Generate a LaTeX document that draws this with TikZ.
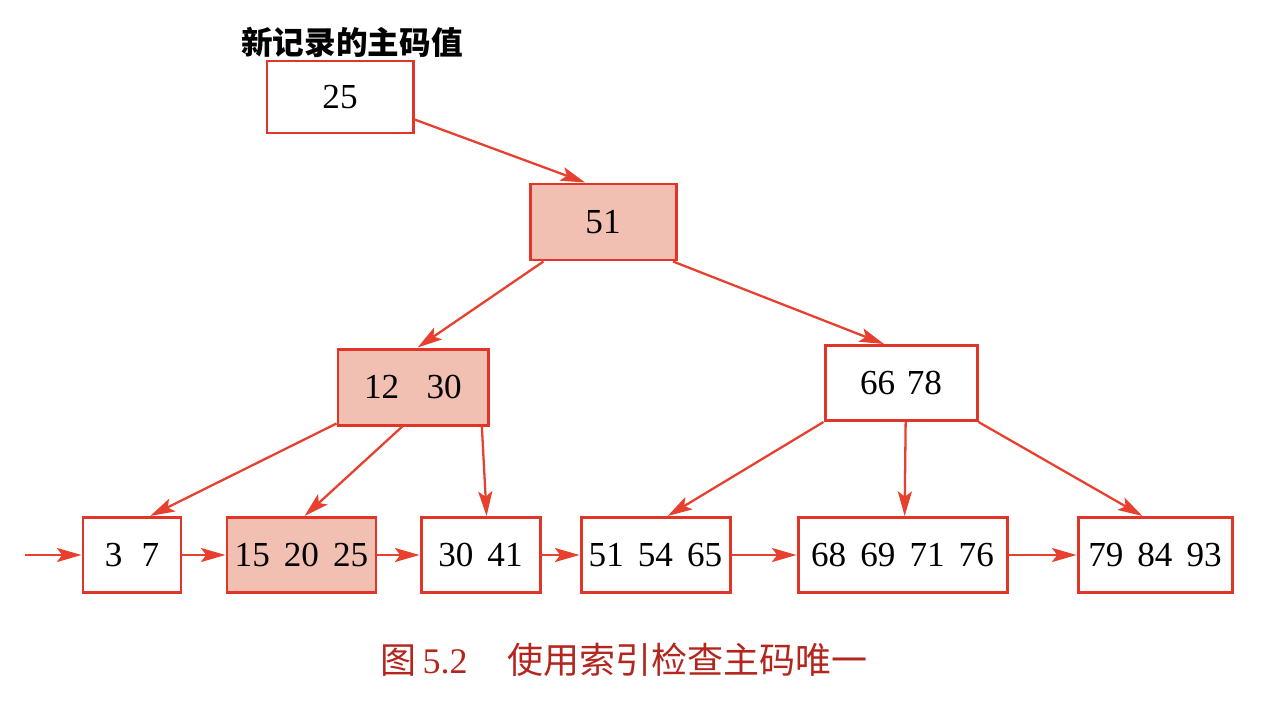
\documentclass[tikz,border=0pt]{standalone}
\usepackage{fontspec}
\setmainfont{Liberation Serif}
\newfontfamily\cjk{Noto Sans CJK SC}
\usetikzlibrary{arrows.meta,calc}
\definecolor{boxred}{HTML}{E2352A}
\definecolor{arrred}{HTML}{E8402E}
\definecolor{shade}{HTML}{F2C0B2}
\definecolor{capred}{HTML}{B3261E}
\tikzset{
  keybox/.style={draw=boxred, line width=1.7pt, fill=white, inner sep=0pt,
    font=\fontsize{20}{22}\selectfont},
  hitbox/.style={keybox, fill=shade},
  ptr/.style={draw=arrred, line width=1.3pt,
    -{Stealth[length=14pt,width=8pt,inset=3pt]}},
}
\begin{document}
\begin{tikzpicture}[x=0.02cm,y=-0.02cm]
\useasboundingbox (0,0) rectangle (1280,727);
% nodes
\node[keybox, minimum width=146*0.02cm, minimum height=72*0.02cm] (b25) at (340,97) {25};
\node[font=\cjk\bfseries\fontsize{18}{20}\selectfont] (lab) at (352,42) {新记录的主码值};
\node[hitbox, minimum width=146*0.02cm, minimum height=76*0.02cm] (b51) at (603,222) {51};
\node[hitbox, minimum width=150*0.02cm, minimum height=76*0.02cm] (b1230) at (413,387) {12\hspace{0.78em}30};
\node[keybox, minimum width=152*0.02cm, minimum height=75*0.02cm] (b6678) at (901,383) {66\hspace{0.33em}78};
\node[keybox, minimum width=98*0.02cm, minimum height=75*0.02cm] (l1) at (132,555) {3\hspace{0.55em}7};
\node[hitbox, minimum width=149*0.02cm, minimum height=75*0.02cm] (l2) at (301.5,555) {15\hspace{0.4em}20\hspace{0.4em}25};
\node[keybox, minimum width=119*0.02cm, minimum height=75*0.02cm] (l3) at (480.5,555) {30\hspace{0.4em}41};
\node[keybox, minimum width=149*0.02cm, minimum height=75*0.02cm] (l4) at (655.5,555) {51\hspace{0.4em}54\hspace{0.4em}65};
\node[keybox, minimum width=209*0.02cm, minimum height=75*0.02cm] (l5) at (902.5,555) {68\hspace{0.4em}69\hspace{0.4em}71\hspace{0.4em}76};
\node[keybox, minimum width=154*0.02cm, minimum height=75*0.02cm] (l6) at (1155,555) {79\hspace{0.4em}84\hspace{0.4em}93};
\node[text=capred, font=\fontsize{20.5}{23}\selectfont] (cap) at (624,660) {{\cjk 图}\,5.2\hspace{1.1em}{\cjk 使用索引检查主码唯一}};
\coordinate (start) at (25,555);
% tree pointers
\draw[ptr] ($(b25.north east)!0.8!(b25.south east)$) -- ($(b51.north west)!0.38!(b51.north east)$);
\draw[ptr] ($(b51.south west)!0.10!(b51.south east)$) -- ($(b1230.north west)!0.53!(b1230.north east)$);
\draw[ptr] ($(b51.south west)!0.97!(b51.south east)$) -- ($(b6678.north west)!0.39!(b6678.north east)$);
\draw[ptr] ($(b1230.south west)+(0,-3)$) -- ($(l1.north west)!0.68!(l1.north east)$);
\draw[ptr] ($(b1230.south west)!0.43!(b1230.south east)$) -- ($(l2.north west)!0.52!(l2.north east)$);
\draw[ptr] ($(b1230.south west)!0.95!(b1230.south east)$) -- ($(l3.north west)!0.55!(l3.north east)$);
\draw[ptr] (b6678.south west) -- ($(l4.north west)!0.58!(l4.north east)$);
\draw[ptr] ($(b6678.south west)!0.53!(b6678.south east)$) -- ($(l5.north west)!0.51!(l5.north east)$);
\draw[ptr] (b6678.south east) -- ($(l6.north west)!0.42!(l6.north east)$);
% leaf chain
\draw[ptr] (start) -- (l1.west);
\draw[ptr] (l1.east) -- (l2.west);
\draw[ptr] (l2.east) -- (l3.west);
\draw[ptr] (l3.east) -- (l4.west);
\draw[ptr] (l4.east) -- (l5.west);
\draw[ptr] (l5.east) -- (l6.west);
\end{tikzpicture}
\end{document}
